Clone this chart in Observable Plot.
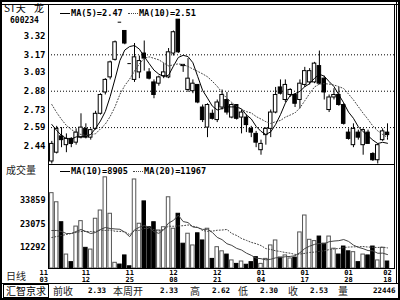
<!DOCTYPE html>
<html><head><meta charset="utf-8">
<script src="https://cdn.jsdelivr.net/npm/d3@7"></script>
<script src="https://cdn.jsdelivr.net/npm/@observablehq/plot@0.6"></script>
<style>
body{margin:0;background:#fff;}
#root{position:relative;width:400px;height:300px;overflow:hidden;background:#fff;}
#root > *{position:absolute;}
.ln{background:#000;}
.mono{font-family:"DejaVu Sans Mono",monospace;font-weight:bold;color:#000;white-space:pre;}
.cjk{font-family:"Noto Sans CJK SC",sans-serif;color:#222;white-space:pre;}
.sw{display:inline-block;width:10px;height:0;vertical-align:middle;margin-right:1px;}
.solid{border-top:1px solid #000;}
.dot{border-top:1px dotted #444;}
</style></head>
<body><div id="root"></div>
<script>
// ---- data ----
const opens  = [2.32,2.39,2.52,2.45,2.50,2.47,2.51,2.58,2.51,2.58, 2.70,2.87,2.99,3.13,3.43,3.36,3.10,2.97,3.03,3.18, 3.03,2.95,2.94,3.00,2.99,3.18,3.45,3.09,2.89,2.88, 2.93,2.75,2.59,2.70,2.65,2.75,2.81,2.67,2.77,2.67, 2.67,2.58,2.54,2.41,2.53,2.58,2.71,2.91,2.81,2.85, 2.85,2.81,2.93,2.95,2.95,3.08,2.98,2.73,2.83,2.85, 2.77,2.55,2.45,2.55,2.45,2.55,2.38,2.33,2.49,2.55];
const highs  = [2.48,2.60,2.59,2.54,2.51,2.58,2.70,2.62,2.58,2.72, 2.86,2.98,3.12,3.28,3.43,3.36,3.10,3.26,3.16,3.28, 3.06,2.97,3.00,3.10,3.22,3.36,3.45,3.09,3.14,2.97, 2.93,2.77,2.78,2.73,2.81,2.89,2.87,2.78,2.77,2.73, 2.69,2.60,2.56,2.49,2.59,2.73,2.91,2.97,2.97,2.90, 2.86,2.97,3.07,3.06,3.11,3.20,3.00,2.85,2.90,2.91, 2.78,2.58,2.62,2.57,2.58,2.57,2.39,2.46,2.58,2.62];
const lows   = [2.30,2.38,2.43,2.39,2.43,2.45,2.50,2.50,2.49,2.57, 2.69,2.85,2.97,3.12,3.43,3.25,3.10,2.95,2.98,3.04, 2.97,2.82,2.92,2.98,2.98,3.16,3.18,3.03,2.87,2.86, 2.78,2.63,2.51,2.65,2.63,2.73,2.69,2.66,2.65,2.54, 2.55,2.51,2.43,2.37,2.45,2.51,2.70,2.85,2.79,2.83, 2.75,2.74,2.91,2.93,2.94,2.93,2.81,2.71,2.81,2.76, 2.61,2.49,2.43,2.49,2.37,2.46,2.32,2.30,2.48,2.49];
const closes = [2.46,2.58,2.49,2.50,2.46,2.55,2.59,2.51,2.57,2.70, 2.85,2.97,3.11,3.27,3.43,3.26,3.10,3.15,3.12,3.14, 2.98,2.85,2.99,3.03,3.19,3.35,3.19,3.08,2.98,2.94, 2.79,2.65,2.77,2.66,2.79,2.85,2.71,2.77,2.66,2.71, 2.61,2.55,2.47,2.46,2.58,2.71,2.85,2.86,2.93,2.89, 2.78,2.94,3.04,3.04,3.10,2.94,2.87,2.83,2.85,2.77, 2.62,2.50,2.58,2.51,2.57,2.46,2.33,2.45,2.56,2.53];
const volumes = [37200,33000,23800,8900,5400,21800,24300,12000,11200,25400, 29200,44500,27700,5100,4300,8500,3500,43500,23100,33400, 21500,23800,20000,21500,35300,20800,27700,13900,18500,13100, 18700,15400,20800,6900,12300,10400,8900,6200,4600,5700, 4200,5400,7700,4600,6900,13100,15400,7500,8500,7100, 7500,19100,26900,15700,15100,17200,13900,17200,11600,8900, 12600,10400,10000,5400,8900,8500,12600,6200,12000,5700];
const ma5  = [2.615,2.567,2.527,2.503,2.498,2.516,2.517,2.521,2.535,2.584, 2.643,2.718,2.838,2.978,3.125,3.208,3.236,3.244,3.215,3.156, 3.101,3.048,3.016,2.997,3.007,3.080,3.149,3.166,3.156,3.107, 2.996,2.887,2.825,2.761,2.731,2.742,2.755,2.755,2.755,2.739, 2.691,2.659,2.600,2.560,2.535,2.556,2.615,2.693,2.785,2.846, 2.860,2.879,2.916,2.940,2.983,3.015,3.000,2.957,2.917,2.851, 2.787,2.713,2.664,2.597,2.557,2.525,2.490,2.463,2.473,2.465];
const ma10 = [2.774,2.710,2.655,2.607,2.575,2.551,2.535,2.527,2.535,2.541, 2.580,2.618,2.679,2.756,2.855,2.925,2.977,3.041,3.097,3.141, 3.154,3.142,3.130,3.106,3.082,3.090,3.098,3.091,3.077,3.057, 3.038,3.018,2.995,2.959,2.919,2.869,2.821,2.790,2.758,2.735, 2.717,2.707,2.678,2.658,2.637,2.623,2.637,2.647,2.673,2.690, 2.708,2.747,2.804,2.862,2.914,2.937,2.940,2.937,2.929,2.917, 2.901,2.857,2.811,2.757,2.704,2.656,2.602,2.564,2.535,2.511];
const volMa10 = [19990,19990,19530,18600,18600,19530,20450,19530,18600,19070, 20450,21370,20910,20700,20550,19220,17140,20290,21480,22280, 21510,19440,18670,20310,23410,24640,27060,24100,23640,21610, 21320,20490,20570,19100,16810,15770,13890,13120,11740,11000, 9550,8540,7230,7000,6460,6730,7380,7510,7900,8040, 8370,9740,11660,12770,13590,14000,13850,14820,15130,15310, 15820,14950,13260,12230,11610,10740,10610,9510,9550,8905];
const volMa20 = [16760,17220,17680,18140,18600,19070,19530,19530,19530,19530, 20220,19985,20220,19650,19575,19375,18105,19910,20040,20900, 20980,20405,19790,20505,21980,21930,22100,22195,22560,21945, 21415,19965,19620,19705,20110,20205,20475,18610,17690,16305, 15435,14515,13900,13050,11635,11250,10635,10315,9820,9520, 8960,9140,9445,9885,10025,10365,10615,11165,11515,11675, 12095,12345,12460,12500,12600,12370,12230,12165,12340,11967];
const priceTicks = [3.32,3.17,3.03,2.88,2.73,2.59,2.44];
const gridPrices = [3.17,2.88,2.59];
const volTicks = [33859,23075,12292];
const dateIdx = [0,7,16,25,34,43,52,61,69];
const dateMonths = ["11","11","11","12","12","01","01","01","02"];
const dateDays   = ["03","12","25","08","21","04","17","28","18"];
const priceLegend = ["MA(5)=2.47","MA(10)=2.51"];
const volLegend = ["MA(10)=8905","MA(20)=11967"];
const title = ["ST天","龙"], code = "600234";
const bottomLabels = ["前收","本周开","高","低","收","量"];
const bottomValues = ["2.33","2.33","2.62","2.30","2.53","22446"];
const brand = "汇智京求";

// ---- build ----
const n = closes.length;
const candles = d3.range(n).map(i => ({i, o:opens[i], h:highs[i], l:lows[i], c:closes[i], v:volumes[i],
  ma5:ma5[i], ma10:ma10[i], vma10:volMa10[i], vma20:volMa20[i]}));
const HW = 0.36;
const xDom = [-0.68, 70.44];
const volBase = 2476;
const bodies = candles.filter(d => d.o !== d.c);
const dojis = candles.filter(d => d.o === d.c);
const colorOf = d => d.c > d.o ? "#fff" : "#000";
const dates = dateIdx.map((i,k) => ({i, label: dateMonths[k] + "\n" + dateDays[k]}));

const root = document.getElementById("root");

const price = Plot.plot({
  width: 400, height: 165, marginTop: 5, marginBottom: 0, marginLeft: 48, marginRight: 6,
  style: {background: "transparent", fontFamily: "DejaVu Sans Mono", overflow: "visible"},
  x: {domain: xDom, axis: null},
  y: {domain: [2.288, 3.563], label: null},
  color: {type: "identity"},
  marks: [
    Plot.ruleY(gridPrices, {stroke: "#000", strokeWidth: 1, strokeDasharray: "1,2"}),
    Plot.axisY(priceTicks, {tickSize: 0, tickPadding: 3, tickFormat: d => d.toFixed(2), fontSize: 9, fontWeight: "bold", fill: "#000"}),
    Plot.ruleX(candles, {x: "i", y1: "l", y2: "h", stroke: "#000", strokeWidth: 1}),
    Plot.rect(bodies, {x1: d => d.i - HW, x2: d => d.i + HW, y1: "o", y2: "c", fill: colorOf, stroke: "#000", strokeWidth: 1}),
    Plot.ruleY(dojis, {y: "c", x1: d => d.i - HW, x2: d => d.i + HW, stroke: "#000", strokeWidth: 1}),
    Plot.line(candles, {x: "i", y: "ma5", stroke: "#000", strokeWidth: 1}),
    Plot.line(candles, {x: "i", y: "ma10", stroke: "#444", strokeWidth: 1, strokeDasharray: "1,2"})
  ]
});
price.style.left = "0px"; price.style.top = "0px";
root.appendChild(price);

const vol = Plot.plot({
  width: 400, height: 118, marginTop: 0, marginBottom: 15, marginLeft: 48, marginRight: 6,
  style: {background: "transparent", fontFamily: "DejaVu Sans Mono", overflow: "visible"},
  x: {domain: xDom, axis: null},
  y: {domain: [volBase, 49942], label: null},
  color: {type: "identity"},
  marks: [
    Plot.axisY(volTicks, {tickSize: 0, tickPadding: 3, tickFormat: d => String(d), fontSize: 8.5, fontWeight: "bold", fill: "#000"}),
    Plot.rect(candles, {x1: d => d.i - HW, x2: d => d.i + HW, y1: () => volBase, y2: "v", fill: colorOf,
      stroke: d => d.c > d.o ? "#555" : "#000", strokeWidth: 1}),
    Plot.line(candles, {x: "i", y: "vma10", stroke: "#444", strokeWidth: 1}),
    Plot.line(candles, {x: "i", y: "vma20", stroke: "#444", strokeWidth: 1, strokeDasharray: "1,2"}),
    Plot.text(dates.slice(0,1), {x: "i", text: "label", frameAnchor: "bottom", lineAnchor: "top", dy: 1.5, dx: -8, lineHeight: 1, fontSize: 7, fontWeight: "bold", fill: "#000"}),
    Plot.text(dates.slice(1), {x: "i", text: "label", frameAnchor: "bottom", lineAnchor: "top", dy: 1.5, lineHeight: 1, fontSize: 7, fontWeight: "bold", fill: "#000"})
  ]
});
vol.style.left = "0px"; vol.style.top = "165px";
root.appendChild(vol);

function el(cls, style, text, html) {
  const d = document.createElement("div");
  d.className = cls; d.setAttribute("style", style);
  if (html) d.innerHTML = html; else if (text != null) d.textContent = text;
  root.appendChild(d); return d;
}
// frame lines
el("", "left:0;top:0;width:400px;height:300px;border:2px solid #000;box-sizing:border-box;");
el("ln", "left:0;top:4px;width:400px;height:1px;");
el("ln", "left:396px;top:0;width:1px;height:283px;");
el("ln", "left:48px;top:4px;width:1px;height:265px;");
el("ln", "left:394px;top:4px;width:1px;height:265px;");
el("ln", "left:48px;top:164px;width:347px;height:1px;");
el("ln", "left:48px;top:268px;width:347px;height:1px;");
el("ln", "left:0;top:283px;width:400px;height:1px;");

// legends
el("mono", "left:60px;top:8px;font-size:8.6px;line-height:10px;", null,
  `<span class="sw solid"></span>${priceLegend[0]} <span class="sw dot"></span>${priceLegend[1]}`);
el("mono", "left:60px;top:166px;font-size:8.6px;line-height:10px;", null,
  `<span class="sw solid"></span>${volLegend[0]} <span class="sw dot"></span>${volLegend[1]}`);

// left labels
el("cjk", "left:4px;top:2px;font-size:10px;line-height:12px;color:#000;", title[0]);
el("cjk", "left:34px;top:2px;font-size:10px;line-height:12px;color:#000;", title[1]);
el("mono", "left:10px;top:16px;font-size:8px;line-height:10px;", code);
el("cjk", "left:6px;top:164px;font-size:10px;line-height:12px;", "成交量");
el("cjk", "left:6px;top:270px;font-size:10px;line-height:12px;", "日线");

// bottom bar
el("cjk", "left:3px;top:284px;width:46px;height:14px;border:1px solid #000;box-sizing:border-box;font-size:10px;line-height:12px;text-align:center;color:#000;", brand);
const labX = [53,113,190,238,288,338];
const valX = [88,160,212,260,310,373];
bottomLabels.forEach((t,k) => el("cjk", `left:${labX[k]}px;top:284px;font-size:10px;line-height:14px;`, t));
bottomValues.forEach((t,k) => el("mono", `left:${valX[k]}px;top:286px;font-size:7.5px;line-height:10px;`, t));
</script></body></html>
